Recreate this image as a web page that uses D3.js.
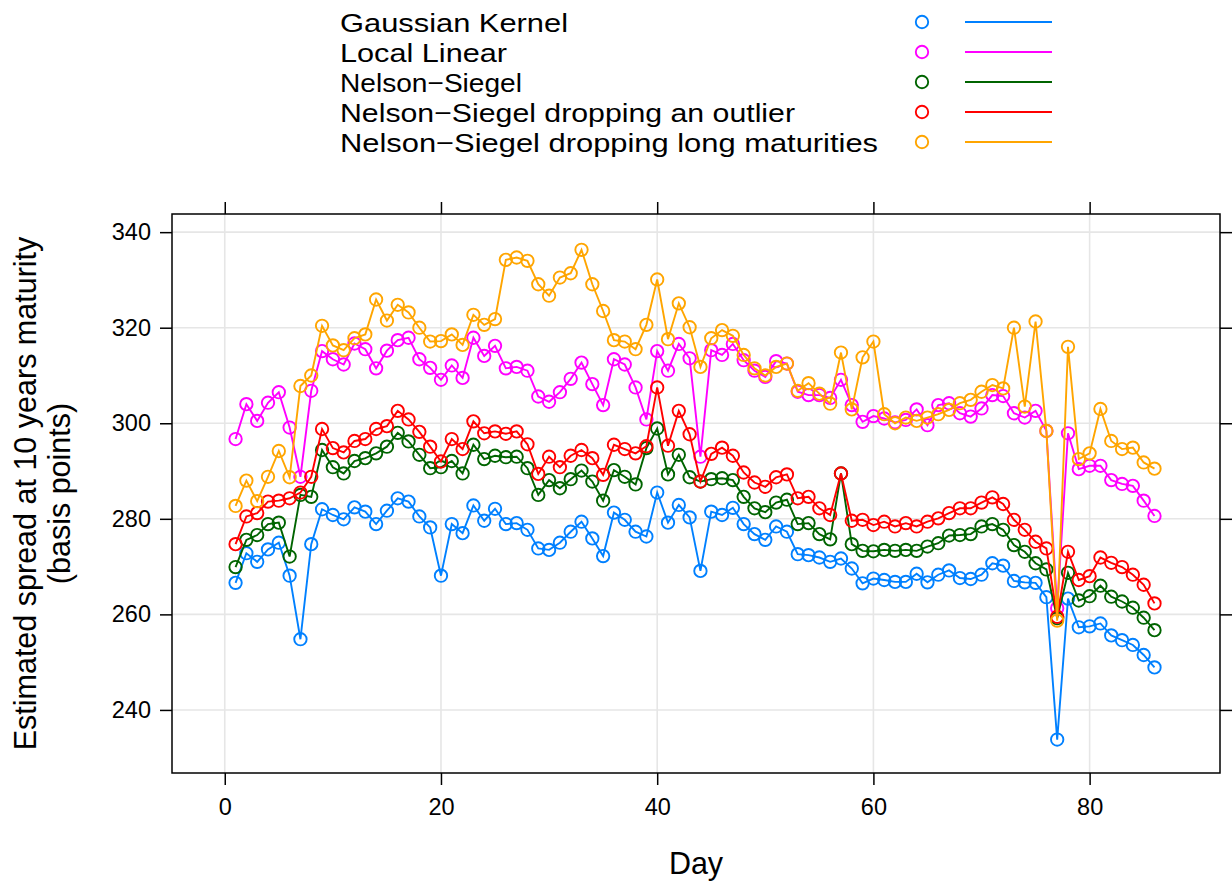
<!DOCTYPE html>
<html>
<head>
<meta charset="utf-8">
<script src="https://cdn.jsdelivr.net/npm/d3@7"></script>
<style>
  html, body { margin: 0; padding: 0; background: #fff; }
  svg { display: block; font-family: "Liberation Sans", Arial, Helvetica, sans-serif; }
</style>
</head>
<body>
<svg id="chart" width="1232" height="889"></svg>
<script>
// Trading days observed
const days = [1,2,3,4,5,6,7,8,9,10,11,12,13,14,15,16,17,18,19,20,
  21,22,23,24,25,26,27,28,29,30,31,32,33,34,35,36,37,38,39,40,
  41,42,43,44,45,46,47,48,49,50,51,52,53,54,55,56,57,58,59,60,
  61,62,63,64,65,66,67,68,69,70,71,72,73,74,75,76,77,78,79,80,
  81,82,83,84,85,86];

// Estimated 10-year spread (basis points), one array per estimator
const gaussianKernel = [266.6,272.8,271.0,273.6,275.0,268.1,254.8,274.7,282.0,280.8,279.9,282.4,281.5,278.9,281.7,284.3,283.6,280.5,278.2,268.1,
  278.9,277.0,282.8,279.6,282.1,278.9,279.1,277.7,273.8,273.5,275.0,277.3,279.4,275.9,272.2,281.3,279.8,277.3,276.3,285.5,
  279.2,282.9,280.3,269.1,281.5,280.8,282.3,278.9,276.8,275.6,278.4,277.3,272.6,272.4,271.9,271.0,271.7,269.6,266.5,267.5,
  267.2,266.8,266.8,268.5,266.7,268.3,269.2,267.6,267.4,268.3,270.7,270.2,267.0,266.7,266.6,263.6,233.8,263.3,257.3,257.5,
  258.1,255.6,254.6,253.6,251.5,248.9];

const localLinear = [296.7,304.0,300.5,304.3,306.5,299.1,288.8,306.8,315.1,313.4,312.3,316.7,315.5,311.5,315.2,317.4,317.9,313.4,311.6,309.1,
  312.1,309.5,317.9,314.1,316.2,311.5,311.8,311.0,305.6,304.5,306.5,309.3,312.7,308.2,303.8,313.4,312.3,307.5,300.8,315.1,
  311.0,316.6,313.6,293.0,315.3,314.3,316.6,313.2,311.0,309.7,313.0,312.5,306.6,305.9,305.9,305.3,309.1,303.8,300.3,301.5,
  301.0,300.2,300.7,302.9,299.6,303.8,304.2,302.1,301.4,303.1,305.9,305.7,302.1,301.2,302.6,298.4,261.3,297.9,290.4,291.1,
  291.1,288.1,287.3,286.9,283.8,280.6];

const nelsonSiegel = [269.9,275.6,276.6,278.9,279.2,272.1,285.0,284.6,294.4,290.8,289.5,292.1,292.7,293.7,295.1,298.0,296.2,293.4,290.6,290.8,
  292.1,289.5,295.5,292.5,293.2,292.9,293.0,290.6,285.0,288.1,286.4,288.3,290.1,287.8,283.8,290.2,288.8,287.2,294.8,298.9,
  289.3,293.4,288.7,287.8,288.3,288.5,288.1,284.6,282.2,281.4,283.4,284.0,278.9,279.1,276.8,275.7,289.5,274.7,273.3,273.2,
  273.5,273.3,273.5,273.3,274.2,274.9,276.5,276.6,276.8,278.4,278.9,277.7,274.5,273.1,270.7,269.4,259.2,268.7,262.9,263.8,
  266.0,263.7,262.7,261.4,259.3,256.7];

const nsDropOutlier = [274.7,280.5,281.2,283.6,283.8,284.3,285.5,288.8,298.8,294.8,293.9,296.3,296.7,298.8,299.4,302.6,300.8,298.2,295.1,292.0,
  296.7,294.6,300.4,297.9,298.3,297.8,298.3,295.6,289.4,293.0,290.8,293.2,294.4,292.7,289.2,295.5,294.6,293.7,295.2,307.5,
  295.3,302.6,297.7,287.8,293.6,294.9,293.2,289.7,287.6,286.7,288.7,289.3,284.3,284.6,282.2,280.8,289.5,279.6,279.8,278.7,
  279.4,278.4,279.1,278.4,279.4,280.1,281.2,282.2,282.2,283.4,284.5,283.1,279.8,277.7,275.2,273.8,259.5,273.1,267.2,268.0,
  271.9,270.8,269.9,268.3,266.2,262.3];

const nsDropLong = [282.7,288.0,283.7,288.8,294.2,288.7,307.8,310.0,320.4,316.3,315.3,317.8,318.6,325.9,321.5,324.8,323.2,320.0,317.1,317.2,
  318.6,316.4,322.7,320.6,321.8,334.2,334.7,334.0,329.1,326.7,330.5,331.4,336.3,329.1,323.5,317.4,317.1,315.5,320.6,330.1,
  317.6,325.1,320.1,311.8,317.8,319.5,318.3,314.3,311.5,310.0,311.8,312.5,306.8,308.4,306.2,304.1,314.8,302.9,313.8,317.1,
  301.9,300.0,301.2,300.5,301.2,301.9,302.8,304.2,304.9,306.6,308.0,307.3,320.0,303.5,321.3,298.4,258.7,316.0,292.5,293.7,
  303.0,296.3,294.6,294.9,291.8,290.5];

const seriesNames = ["Gaussian Kernel", "Local Linear", "Nelson\u2212Siegel",
  "Nelson\u2212Siegel dropping an outlier", "Nelson\u2212Siegel dropping long maturities"];
const seriesColors = ["#0080ff", "#ff00ff", "#006400", "#ff0000", "#ffa500"];
const seriesValues = [gaussianKernel, localLinear, nelsonSiegel, nsDropOutlier, nsDropLong];

const xTicks = [0, 20, 40, 60, 80];
const yTicks = [240, 260, 280, 300, 320, 340];

const svg = d3.select("#chart");

// Panel box
const panel = { left: 172, right: 1220, top: 214, bottom: 773 };

const x = d3.scaleLinear().domain([-4.88, 92.06]).range([panel.left, panel.right]);
const y = d3.scaleLinear().domain([226.8, 343.8]).range([panel.bottom, panel.top]);

// Reference grid
const grid = svg.append("g").attr("stroke", "#e6e6e6").attr("stroke-width", 1.6);
grid.selectAll("line.v").data(xTicks).join("line")
  .attr("x1", d => x(d)).attr("x2", d => x(d))
  .attr("y1", panel.top).attr("y2", panel.bottom);
grid.selectAll("line.h").data(yTicks).join("line")
  .attr("x1", panel.left).attr("x2", panel.right)
  .attr("y1", d => y(d)).attr("y2", d => y(d));

// Axes on all four sides; labels only bottom and left
const tickLen = 12;
const fontTick = 23.5;
function styleAxis(g) {
  g.select(".domain").remove();
  g.selectAll(".tick line").attr("stroke", "#000").attr("stroke-width", 1.5);
  g.selectAll(".tick text").attr("fill", "#000").style("font-size", fontTick + "px");
}
svg.append("g").attr("transform", `translate(0,${panel.bottom})`)
  .call(d3.axisBottom(x).tickValues(xTicks).tickSize(tickLen).tickPadding(13))
  .call(styleAxis);
svg.append("g").attr("transform", `translate(0,${panel.top})`)
  .call(d3.axisTop(x).tickValues(xTicks).tickSize(tickLen).tickFormat(""))
  .call(styleAxis);
svg.append("g").attr("transform", `translate(${panel.left},0)`)
  .call(d3.axisLeft(y).tickValues(yTicks).tickSize(tickLen).tickPadding(9))
  .call(styleAxis);
svg.append("g").attr("transform", `translate(${panel.right},0)`)
  .call(d3.axisRight(y).tickValues(yTicks).tickSize(tickLen).tickFormat(""))
  .call(styleAxis);

// Clip the data to the panel
svg.append("clipPath").attr("id", "panelClip").append("rect")
  .attr("x", panel.left).attr("y", panel.top)
  .attr("width", panel.right - panel.left).attr("height", panel.bottom - panel.top);

const line = d3.line().x(d => x(d[0])).y(d => y(d[1]));
const plot = svg.append("g").attr("clip-path", "url(#panelClip)");

seriesValues.forEach((vals, i) => {
  const pts = days.map((d, k) => [d, vals[k]]);
  const g = plot.append("g");
  g.append("path").datum(pts)
    .attr("d", line).attr("fill", "none")
    .attr("stroke", seriesColors[i]).attr("stroke-width", 1.9);
  g.selectAll("circle").data(pts).join("circle")
    .attr("cx", d => x(d[0])).attr("cy", d => y(d[1])).attr("r", 6.2)
    .attr("fill", "none").attr("stroke", seriesColors[i]).attr("stroke-width", 1.9);
});

// Panel border
svg.append("rect")
  .attr("x", panel.left).attr("y", panel.top)
  .attr("width", panel.right - panel.left).attr("height", panel.bottom - panel.top)
  .attr("fill", "none").attr("stroke", "#000").attr("stroke-width", 1.5);

// Axis titles
const fontTitle = 30.5;
svg.append("text")
  .attr("x", (panel.left + panel.right) / 2).attr("y", 874)
  .attr("text-anchor", "middle").style("font-size", fontTitle + "px")
  .text("Day");
const ylab = svg.append("text")
  .attr("transform", `translate(0,${(panel.top + panel.bottom) / 2}) rotate(-90)`)
  .attr("text-anchor", "middle").style("font-size", fontTitle + "px");
ylab.append("tspan").attr("x", 0).attr("y", 36).text("Estimated spread at 10 years maturity");
ylab.append("tspan").attr("x", 0).attr("y", 70).text("(basis points)");

// Legend: rows are set tightly, so each label is drawn at a compact size
// and stretched to its natural width to keep row boxes from colliding
const legendFont = 26.5;
const legendWidths = [228, 167, 182, 455, 538];
const legend = svg.append("g");
seriesNames.forEach((name, i) => {
  const cy = 22 + i * 30;
  legend.append("text").attr("x", 340).attr("y", cy).attr("dy", "0.36em")
    .attr("textLength", legendWidths[i]).attr("lengthAdjust", "spacingAndGlyphs")
    .style("font-size", legendFont + "px").text(name);
  legend.append("circle").attr("cx", 922).attr("cy", cy).attr("r", 6.2)
    .attr("fill", "none").attr("stroke", seriesColors[i]).attr("stroke-width", 1.9);
  legend.append("line").attr("x1", 965).attr("x2", 1052).attr("y1", cy).attr("y2", cy)
    .attr("stroke", seriesColors[i]).attr("stroke-width", 1.9);
});
</script>
</body>
</html>
